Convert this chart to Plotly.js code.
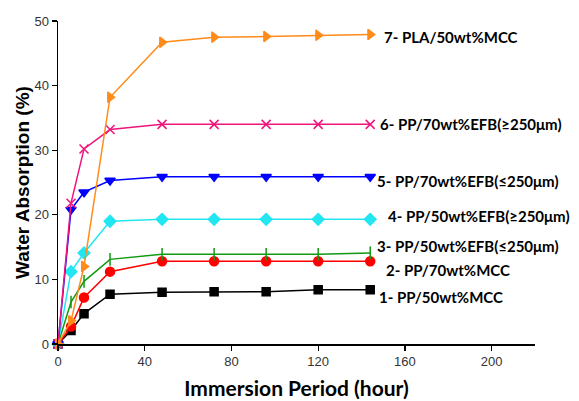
<!DOCTYPE html>
<html>
<head>
<meta charset="utf-8">
<script src="https://cdn.plot.ly/plotly-3.0.1.min.js"></script>
<style>html,body{margin:0;padding:0;background:#fff;}#chart{width:579px;height:401px;}</style>
</head>
<body>
<div id="chart"></div>
<script>
const hours = [0, 6, 12, 24, 48, 72, 96, 120, 144];
const s1_PP50MCC = [0, 2.1, 4.7, 7.7, 8.0, 8.1, 8.1, 8.4, 8.4];
const s2_PP70MCC = [0, 2.7, 7.2, 11.2, 12.8, 12.8, 12.8, 12.8, 12.8];
const s3_PP50EFBsmall = [0, 6.5, 9.7, 13.1, 13.9, 13.9, 13.9, 13.9, 14.1];
const s4_PP50EFBlarge = [0, 11.2, 14.1, 19.0, 19.3, 19.3, 19.3, 19.3, 19.3];
const s5_PP70EFBsmall = [0, 20.8, 23.5, 25.3, 25.9, 25.9, 25.9, 25.9, 25.9];
const s6_PP70EFBlarge = [0, 21.8, 30.2, 33.2, 34.0, 34.0, 34.0, 34.0, 34.0];
const s7_PLA50MCC = [0, 3.6, 12.0, 38.2, 46.7, 47.5, 47.6, 47.8, 47.9];
const seriesLabels = [
  "1- PP/50wt%MCC",
  "2- PP/70wt%MCC",
  "3- PP/50wt%EFB(≤250μm)",
  "4- PP/50wt%EFB(≥250μm)",
  "5- PP/70wt%EFB(≤250μm)",
  "6- PP/70wt%EFB(≥250μm)",
  "7- PLA/50wt%MCC"
];
const xTitle = "Immersion Period (hour)";
const yTitle = "Water Absorption (%)";

const seriesData = [s1_PP50MCC, s2_PP70MCC, s3_PP50EFBsmall, s4_PP50EFBlarge, s5_PP70EFBsmall, s6_PP70EFBlarge, s7_PLA50MCC];
const styles = [
  {color:'#000000', symbol:'square', size:8},
  {color:'#ff0000', symbol:'circle', size:9},
  {color:'#119911', symbol:'line-ns-open', size:9},
  {color:'#22e6f2', symbol:'diamond', size:9},
  {color:'#0000ff', symbol:'triangle-down', size:9},
  {color:'#f0157d', symbol:'x-thin-open', size:9},
  {color:'#ff8c1a', symbol:'triangle-right', size:9}
];
// label anchor positions (layout placement)
const labelPos = [[147.3,7.3],[150.5,11.5],[146.4,15.2],[151.4,19.8],[146.4,25.3],[147.8,34.0],[149.6,47.6]];

const traces = seriesData.map((ys,i)=>({
  x: hours, y: ys, type:'scatter', mode:'lines+markers', name: seriesLabels[i],
  line:{color:styles[i].color, width:1.5},
  marker:{color:styles[i].color, symbol:styles[i].symbol, size:styles[i].size,
          line:{color:styles[i].color, width:1.5}},
  cliponaxis:false
}));

const annotations = seriesLabels.map((t,i)=>({
  x: labelPos[i][0], y: labelPos[i][1], xref:'x', yref:'y', text: t, showarrow:false,
  xanchor:'left', yanchor:'middle',
  font:{family:'Lato, sans-serif', size:15, color:'#000', weight:'bold'}
}));

const layout = {
  width:579, height:401,
  margin:{l:58, r:44, t:21, b:57},
  paper_bgcolor:'#fff', plot_bgcolor:'#fff',
  showlegend:false,
  xaxis:{range:[0,220], tickvals:[0,40,80,120,160,200], showgrid:false, zeroline:false,
    showline:true, linecolor:'#000', linewidth:1.5, ticks:'outside', ticklen:5, tickwidth:1.2, tickcolor:'#000',
    tickfont:{family:'Arial, Liberation Sans, sans-serif', size:13, color:'#333'},
    title:{text:xTitle, standoff:13, font:{family:'Lato, sans-serif', size:21, color:'#000', weight:'bold'}}},
  yaxis:{range:[0,50], tickvals:[0,10,20,30,40,50], showgrid:false, zeroline:false,
    showline:true, linecolor:'#000', linewidth:1.5, ticks:'outside', ticklen:5, tickwidth:1.2, tickcolor:'#000',
    tickfont:{family:'Arial, Liberation Sans, sans-serif', size:13, color:'#333'},
    title:{text:yTitle, standoff:0, font:{family:'Arial, Liberation Sans, sans-serif', size:19, color:'#000', weight:'bold'}}},
  annotations: annotations
};
Plotly.newPlot('chart', traces, layout, {displayModeBar:false, staticPlot:true});
</script>
</body>
</html>
